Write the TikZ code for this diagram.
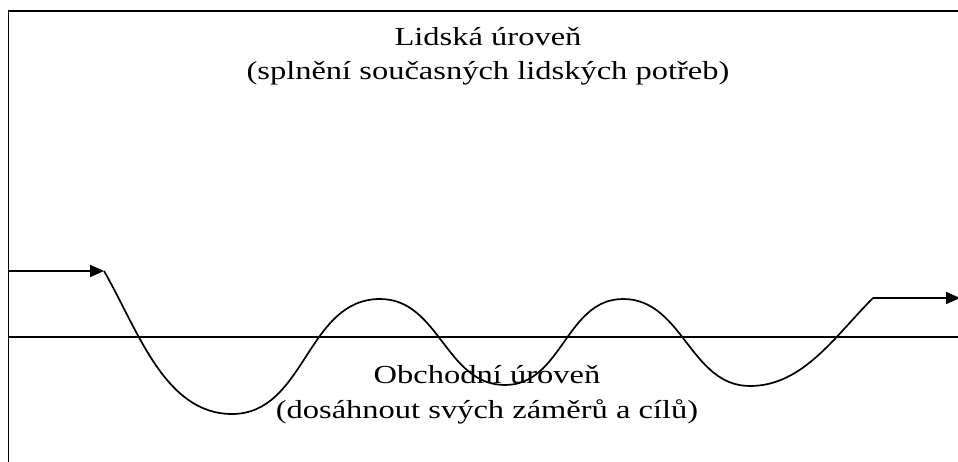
\documentclass[tikz,border=0pt]{standalone}
\usepackage{fontspec}
\setmainfont{Liberation Serif}
\usetikzlibrary{arrows.meta}
\begin{document}
\begin{tikzpicture}[x=1pt,y=1pt,
  frameline/.style={line width=1.8pt, draw=black},
  wave/.style={line width=1.7pt, draw=black},
  flowarrow/.style={line width=1.7pt, -{Triangle[length=14pt,width=12pt]}},
  leveltext/.style={align=center, anchor=base, font=\fontsize{26}{34.5}\selectfont,
                    inner sep=0pt, xscale=1.25, transform shape}]
  \useasboundingbox (0,0) rectangle (958,461);
  \clip (0,0) rectangle (958,461);
  % outer frame (top and left edges) and the dividing level line
  \draw[frameline] (8.5,-10) -- (8.5,450) -- (970,450);
  \draw[frameline] (8.5,124) -- (970,124);
  % end points of the flow
  \coordinate (inL) at (8.5,190);
  \coordinate (w0) at (104,190);
  \coordinate (w1) at (232,47);
  \coordinate (w2) at (380,162);
  \coordinate (w3) at (505,76);
  \coordinate (w4) at (623,162);
  \coordinate (w5) at (750,75);
  \coordinate (w6) at (873,163);
  \coordinate (outR) at (960,163);
  % incoming and outgoing arrows
  \draw[flowarrow] (inL) -- (w0);
  \draw[flowarrow] (w6) -- (outR);
  % oscillating path between the two levels
  \draw[wave] (w0) to[out=-60,in=180,looseness=0.9] (w1)
                   to[out=0,in=180,looseness=1.0] (w2)
                   to[out=0,in=180,looseness=1.0] (w3)
                   to[out=0,in=180,looseness=1.0] (w4)
                   to[out=0,in=180,looseness=1.0] (w5)
                   to[out=0,in=-135,looseness=0.9] (w6);
  % level labels (anchored at the baseline of their last line)
  \node[leveltext] (human) at (488,381) {Lidská úroveň\\(splnění současných lidských potřeb)};
  \node[leveltext] (business) at (487,43) {Obchodní úroveň\\(dosáhnout svých záměrů a cílů)};
\end{tikzpicture}
\end{document}
